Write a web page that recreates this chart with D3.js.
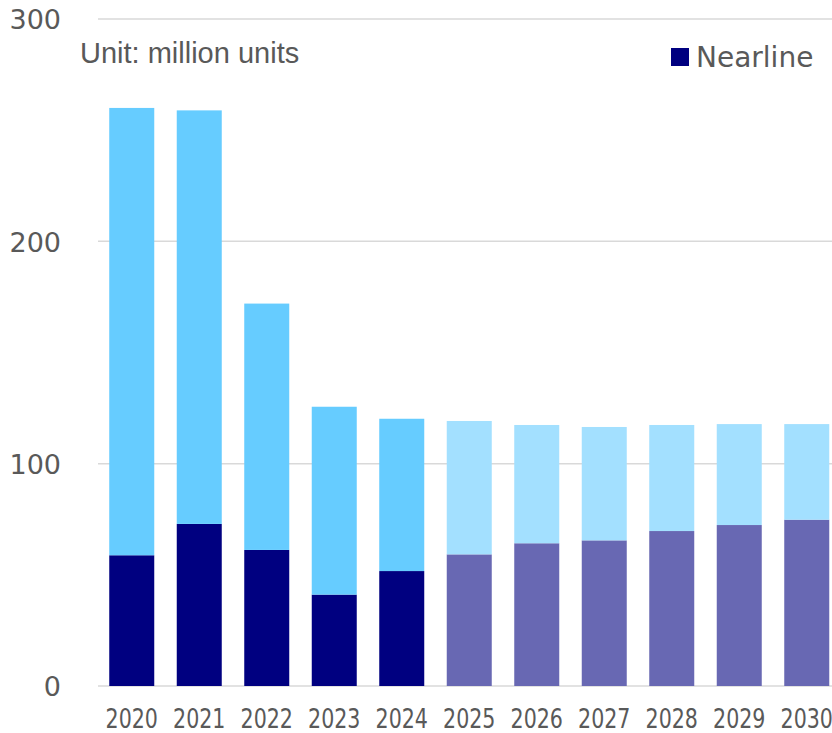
<!DOCTYPE html>
<html>
<head>
<meta charset="utf-8">
<script src="https://cdn.jsdelivr.net/npm/d3@7/dist/d3.min.js"></script>
<style>
  html, body { margin: 0; padding: 0; background: #fff; }
  svg { display: block; }
</style>
</head>
<body>
<svg id="chart" width="832" height="733"></svg>
<script>
// HDD shipments by year (million units), stacked: nearline on the bottom, other on top
const years = ["2020", "2021", "2022", "2023", "2024", "2025", "2026", "2027", "2028", "2029", "2030"];
const nearline = [58.8, 72.9, 61.2, 41.1, 51.7, 59.2, 64.2, 65.5, 69.7, 72.4, 74.8];
const other = [201.2, 186.0, 110.8, 84.5, 68.5, 60.0, 53.2, 51.0, 47.7, 45.4, 43.0];
const forecastYears = ["2025", "2026", "2027", "2028", "2029", "2030"];
const yTicks = [0, 100, 200, 300];
const unitLabel = "Unit: million units";
const legendLabel = "Nearline";

const rows = years.map((y, i) => ({ year: y, nearline: nearline[i], other: other[i] }));

const colors = {
  actual:   { nearline: "#000080", other: "#66CCFF" },
  forecast: { nearline: "#6868B3", other: "#A3E0FF" }
};

const svg = d3.select("#chart");
const margin = { left: 98, right: -8.5, top: 19, bottom: 47 };
const W = 832, H = 733;

const x = d3.scaleBand()
  .domain(years)
  .range([margin.left, W - margin.right])
  .paddingInner(1 / 3)
  .paddingOuter(1 / 6);

const y = d3.scaleLinear()
  .domain([0, 300])
  .range([H - margin.bottom, margin.top]);

const textColor = "#595959";

// Gridlines
svg.append("g")
  .selectAll("line")
  .data(yTicks)
  .join("line")
  .attr("x1", margin.left)
  .attr("x2", W)
  .attr("y1", d => y(d))
  .attr("y2", d => y(d))
  .attr("stroke", "#d9d9d9")
  .attr("stroke-width", 1.5);

// Y axis labels
const yAxis = d3.axisLeft(y).tickValues(yTicks).tickSize(0).tickPadding(0);
const gy = svg.append("g").attr("transform", "translate(61,0)").call(yAxis);
gy.select(".domain").remove();
gy.selectAll("text")
  .attr("fill", textColor)
  .attr("font-family", "'DejaVu Sans', sans-serif")
  .attr("font-size", 27)
  .attr("dy", "0.36em");

// Stacked bars
const stack = d3.stack().keys(["nearline", "other"]);
const series = stack(rows);

svg.append("g")
  .selectAll("g")
  .data(series)
  .join("g")
  .selectAll("rect")
  .data(s => s.map(d => ({ key: s.key, d })))
  .join("rect")
  .attr("x", p => x(p.d.data.year))
  .attr("width", x.bandwidth())
  .attr("y", p => y(p.d[1]))
  .attr("height", p => y(p.d[0]) - y(p.d[1]))
  .attr("fill", p => (forecastYears.includes(p.d.data.year) ? colors.forecast : colors.actual)[p.key]);

// X axis labels (narrow year numbers)
const xAxis = d3.axisBottom(x).tickSize(0).tickPadding(0);
const gx = svg.append("g").attr("transform", `translate(0,${H - margin.bottom})`).call(xAxis);
gx.select(".domain").remove();
gx.selectAll("text")
  .attr("fill", textColor)
  .attr("font-family", "'DejaVu Sans Condensed', 'DejaVu Sans', sans-serif")
  .attr("font-stretch", "condensed")
  .attr("font-size", 26)
  .attr("transform", "scale(0.88,1)")
  .attr("y", 42)
  .attr("dy", 0);

// Unit note
svg.append("text")
  .attr("x", 80)
  .attr("y", 63)
  .attr("fill", textColor)
  .attr("font-family", "'Liberation Sans', Arial, sans-serif")
  .attr("font-size", 29)
  .text(unitLabel);

// Legend
svg.append("rect")
  .attr("x", 671).attr("y", 48)
  .attr("width", 18).attr("height", 18)
  .attr("fill", colors.actual.nearline);
svg.append("text")
  .attr("x", 696)
  .attr("y", 67)
  .attr("fill", textColor)
  .attr("font-family", "'DejaVu Sans', sans-serif")
  .attr("font-size", 28)
  .text(legendLabel);
</script>
</body>
</html>
